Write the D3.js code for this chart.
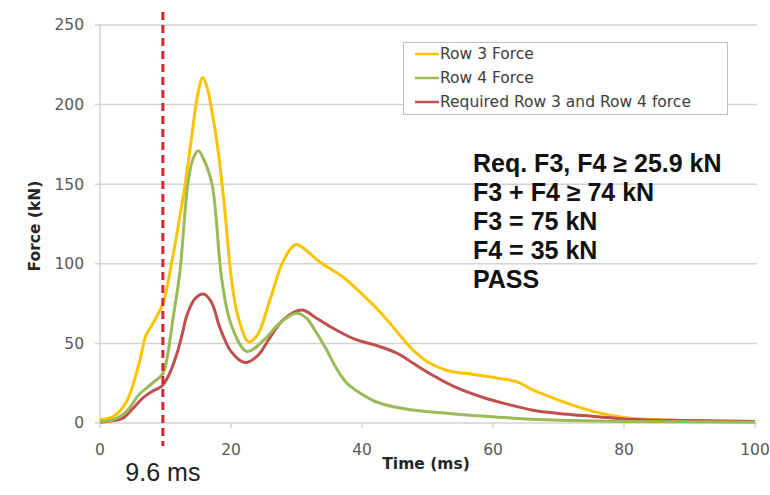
<!DOCTYPE html>
<html>
<head>
<meta charset="utf-8">
<script src="https://cdn.jsdelivr.net/npm/d3@7"></script>
<style>
  body { margin: 0; background: #fff; }
  svg { display: block; }
</style>
</head>
<body>
<svg id="chart" width="770" height="495"></svg>
<script>
"use strict";

// Values (time in ms, force in kN)
const row3Time  = [0, 2, 4, 6, 7, 8, 9.6, 11, 12, 13, 14, 15, 15.7, 16.4, 17, 18, 19, 20, 21, 22.7, 24, 26, 28, 29.8, 31, 33.6, 37, 40, 42, 44, 46, 48, 50, 53, 57, 61, 63.6, 66, 69, 72, 76, 80, 85, 90, 100];
const row3Force = [2, 4, 13, 38, 55, 62, 75, 102, 125, 150, 180, 208, 217, 210, 198, 172, 136, 93, 68, 51, 55, 78, 102, 112, 110, 101, 92, 81, 73, 64, 54, 45, 38.5, 33, 30.5, 28, 26, 21, 16, 11.5, 6.5, 3.5, 2, 1.5, 1];

const row4Time  = [0, 2, 4, 6, 8, 9.6, 10.2, 11.2, 12.2, 13.4, 14.2, 15, 15.8, 17.1, 18.6, 20, 22.4, 25, 27.5, 30, 31.5, 33, 34.6, 36, 37.7, 40, 42, 45, 48, 52, 56, 60, 65, 70, 80, 100];
const row4Force = [1, 2, 7, 18, 25, 31, 40, 67, 95, 150, 166, 171, 166, 150, 90, 62, 45, 52, 63, 69, 66, 57, 46, 35, 25, 18, 13.5, 10, 8, 6.5, 5, 4, 2.5, 1.8, 1, 0.5];

const reqTime  = [0, 2, 3.5, 5, 6.6, 8, 9.4, 10.5, 11.7, 12.5, 13.3, 14.5, 15.8, 17, 18.3, 20, 22.1, 24, 26, 28, 30.8, 33, 35.6, 38.7, 42.7, 45.5, 48, 51, 54, 58.5, 62, 66.1, 70, 76, 80, 90, 100];
const reqForce = [0.5, 1.5, 3, 9, 16, 20, 23, 30, 43, 55, 68, 78, 81, 76, 60, 45, 38, 42, 54, 65, 71, 66, 59.5, 53, 48, 43.5, 37, 29.5, 23, 16, 12, 8, 6, 4, 2.5, 1.5, 1];

const seriesNames = ["Row 3 Force", "Row 4 Force", "Required Row 3 and Row 4 force"];
const seriesColors = ["#fcc400", "#9bbb59", "#c0504d"];
const xTicks = [0, 20, 40, 60, 80, 100];
const yTicks = [0, 50, 100, 150, 200, 250];
const markerTime = 9.6;
const notes = ["Req. F3, F4 \u2265 25.9 kN", "F3 + F4 \u2265 74 kN", "F3 = 75 kN", "F4 = 35 kN", "PASS"];

const svg = d3.select("#chart");
const x = d3.scaleLinear().domain([0, 100]).range([100, 755]);
const y = d3.scaleLinear().domain([0, 250]).range([423, 25]);
const grey = "#d3d3d3";

// Horizontal gridlines + y labels
svg.append("g")
  .selectAll("line")
  .data(yTicks)
  .join("line")
  .attr("x1", 95).attr("x2", 757)
  .attr("y1", (d) => y(d)).attr("y2", (d) => y(d))
  .attr("stroke", grey).attr("stroke-width", 1.5);

svg.append("line")
  .attr("x1", x(0)).attr("x2", x(0))
  .attr("y1", y(250)).attr("y2", y(0))
  .attr("stroke", grey).attr("stroke-width", 1.5);

svg.append("g")
  .selectAll("line")
  .data(xTicks)
  .join("line")
  .attr("x1", (d) => x(d)).attr("x2", (d) => x(d))
  .attr("y1", y(0)).attr("y2", y(0) + 5)
  .attr("stroke", grey).attr("stroke-width", 1.5);

const tickFont = "DejaVu Sans, Verdana, sans-serif";

svg.append("g")
  .selectAll("text")
  .data(yTicks)
  .join("text")
  .attr("x", 84)
  .attr("y", (d) => y(d))
  .attr("dy", "0.35em")
  .attr("text-anchor", "end")
  .attr("font-family", tickFont).attr("font-size", 15.5)
  .attr("fill", "#595959")
  .text((d) => d);

svg.append("g")
  .selectAll("text")
  .data(xTicks)
  .join("text")
  .attr("x", (d) => x(d))
  .attr("y", 455)
  .attr("text-anchor", "middle")
  .attr("font-family", tickFont).attr("font-size", 15.5)
  .attr("fill", "#595959")
  .text((d) => d);

// Axis titles
svg.append("text")
  .attr("transform", "translate(40,226) rotate(-90)")
  .attr("text-anchor", "middle")
  .attr("font-family", tickFont).attr("font-size", 15.5).attr("font-weight", "bold")
  .attr("fill", "#262626")
  .text("Force (kN)");

svg.append("text")
  .attr("x", 426).attr("y", 469)
  .attr("text-anchor", "middle")
  .attr("font-family", tickFont).attr("font-size", 15.5).attr("font-weight", "bold")
  .attr("fill", "#262626")
  .text("Time (ms)");

// Curves
const line = d3.line()
  .x((d) => x(d[0]))
  .y((d) => y(d[1]))
  .curve(d3.curveCatmullRom.alpha(0.5));

const series = [
  d3.zip(row3Time, row3Force),
  d3.zip(row4Time, row4Force),
  d3.zip(reqTime, reqForce),
];

// draw row 3, required, then row 4 on top like the picture
[0, 2, 1].forEach((i) => {
  svg.append("path")
    .datum(series[i])
    .attr("fill", "none")
    .attr("stroke", seriesColors[i])
    .attr("stroke-width", 3)
    .attr("stroke-linejoin", "round")
    .attr("d", line);
});

// 9.6 ms marker
svg.append("line")
  .attr("x1", x(markerTime)).attr("x2", x(markerTime))
  .attr("y1", 12).attr("y2", 446)
  .attr("stroke", "#d9262e").attr("stroke-width", 3)
  .attr("stroke-dasharray", "8,5");

svg.append("text")
  .attr("x", x(markerTime)).attr("y", 481)
  .attr("text-anchor", "middle")
  .attr("font-family", "Liberation Sans, Arial, sans-serif").attr("font-size", 25)
  .attr("fill", "#222")
  .text(markerTime + " ms");

// Legend
const legend = svg.append("g");
legend.append("rect")
  .attr("x", 403.5).attr("y", 42.5).attr("width", 324).attr("height", 72)
  .attr("fill", "#fff").attr("stroke", "#bfbfbf");

seriesNames.forEach((name, i) => {
  const cy = 54 + i * 24;
  legend.append("line")
    .attr("x1", 415).attr("x2", 439)
    .attr("y1", cy).attr("y2", cy)
    .attr("stroke", seriesColors[i]).attr("stroke-width", 2.5);
  legend.append("text")
    .attr("x", 440).attr("y", cy)
    .attr("dy", "0.35em")
    .attr("font-family", tickFont).attr("font-size", 15.5)
    .attr("fill", "#404040")
    .text(name);
});

// Pass / fail note
svg.append("g")
  .selectAll("text")
  .data(notes)
  .join("text")
  .attr("x", 473)
  .attr("y", (d, i) => 172 + i * 29)
  .attr("font-family", "Liberation Sans, Arial, sans-serif")
  .attr("font-size", 25).attr("font-weight", "bold")
  .attr("fill", "#111")
  .text((d) => d);
</script>
</body>
</html>
